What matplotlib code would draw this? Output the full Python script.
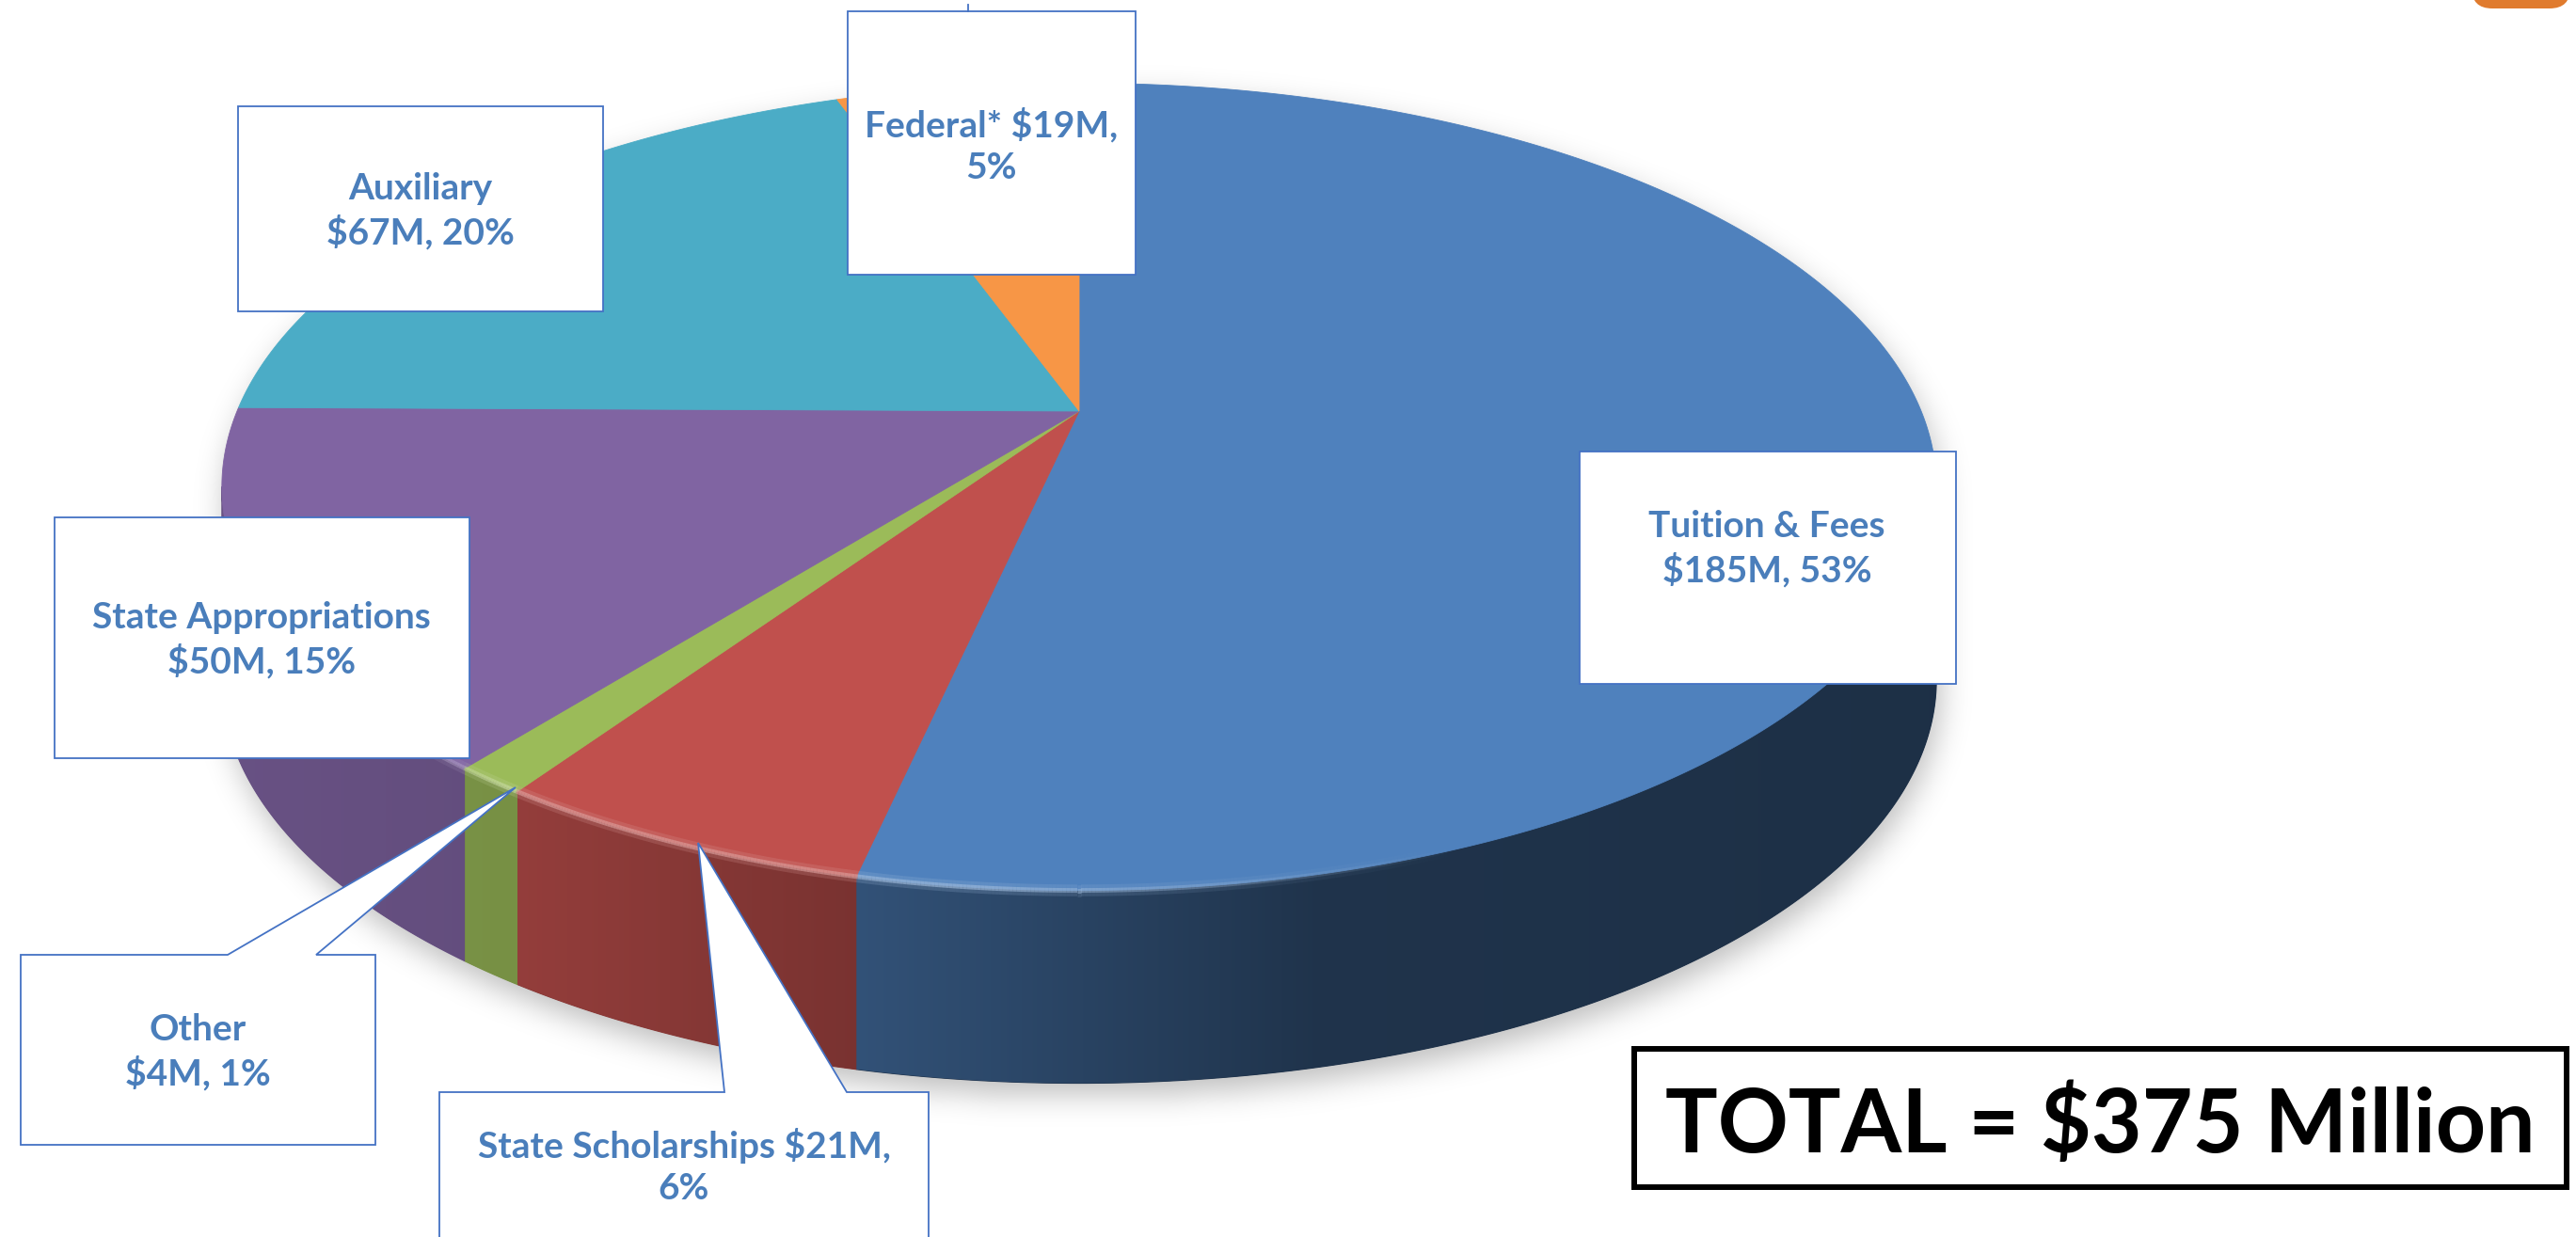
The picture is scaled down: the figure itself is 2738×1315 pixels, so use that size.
import numpy as np
import matplotlib
matplotlib.use("Agg")
import matplotlib.pyplot as plt
from matplotlib.patches import Polygon, Rectangle, FancyBboxPatch
from matplotlib.path import Path
from matplotlib.collections import LineCollection
from matplotlib.colors import to_rgb

# ---------------- data ----------------
categories = ["Tuition & Fees", "State Scholarships", "Other",
              "State Appropriations", "Auxiliary", "Federal*"]
values_musd = [185, 21, 4, 50, 67, 19]
value_labels = ["$185M", "$21M", "$4M", "$50M", "$67M", "$19M"]
pct_labels = ["53%", "6%", "1%", "15%", "20%", "5%"]
colors = ["#4f81bd", "#c0504d", "#9bbb59", "#8064a2", "#4bacc6", "#f79646"]
total_label = "TOTAL = $375 Million"

# ---------------- layout ----------------
W, H = 2738, 1315
fig = plt.figure(figsize=(W / 100, H / 100), dpi=100)
ax = fig.add_axes([0, 0, 1, 1])
ax.set_xlim(0, W)
ax.set_ylim(H, 0)
ax.axis("off")

cx, cy = 1147.0, 437.0
A, B, K = 895.0, 414.0, 0.1875
DEPTH = 205.0


def proj(theta_deg, drop=0.0):
    t = np.radians(np.asarray(theta_deg, float))
    u, v = np.cos(t), np.sin(t)
    den = 1 + K * v
    return np.column_stack([cx + A * u / den, cy - B * v / den + drop])


vals = np.array(values_musd, float)
frac = vals / vals.sum()
ends = 90 - np.cumsum(frac) * 360
starts = np.concatenate([[90], ends[:-1]])
n = len(vals)
th_s = np.degrees(np.arcsin(K))
vis_lo, vis_hi = -180 + th_s, -th_s


def shade(x):
    return np.interp(x, [200, 550, 917, 1400, 2100], [0.82, 0.77, 0.63, 0.40, 0.37])


# ---------------- shadow ----------------
sil = np.vstack([proj(np.linspace(vis_hi, vis_lo + 360, 400)),
                 proj(np.linspace(vis_lo + 360, vis_hi + 360, 400), DEPTH)])
step = 4
gx = np.arange(0, W, step) + step / 2
gy = np.arange(0, H, step) + step / 2
GX, GY = np.meshgrid(gx, gy)
dx, dy = 5, 14
mask = Path(sil).contains_points(np.column_stack([GX.ravel() - dx, GY.ravel() - dy]))
mask = mask.reshape(GX.shape).astype(float)
sig = 16 / step
kx = np.arange(-int(4 * sig), int(4 * sig) + 1)
kern = np.exp(-0.5 * (kx / sig) ** 2)
kern /= kern.sum()
bl = np.apply_along_axis(lambda r: np.convolve(r, kern, mode="same"), 1, mask)
bl = np.apply_along_axis(lambda c: np.convolve(c, kern, mode="same"), 0, bl)
sh = np.zeros(bl.shape + (4,))
sh[..., 3] = bl * 0.26
ax.imshow(sh, extent=(0, W, H, 0), aspect="auto", interpolation="bilinear", zorder=1)

# ---------------- side walls ----------------
for i in range(n):
    lo = max(ends[i], vis_lo)
    hi = min(starts[i], vis_hi)
    if hi <= lo:
        continue
    th = np.linspace(lo, hi, 200)
    top = proj(th)
    bot = proj(th[::-1], DEPTH)
    poly = np.vstack([top, bot])
    base = np.array(to_rgb(colors[i]))
    xm = poly[:, 0].mean()
    under = Polygon(poly, closed=True, facecolor=base * shade(xm),
                    edgecolor=base * shade(xm), lw=0.8, zorder=1.5)
    ax.add_patch(under)
    clip = Polygon(poly, closed=True, facecolor="none", edgecolor="none")
    ax.add_patch(clip)
    x0, x1 = poly[:, 0].min(), poly[:, 0].max()
    y0, y1 = poly[:, 1].min(), poly[:, 1].max()
    xs = np.linspace(x0, x1, 256)
    img = np.clip(base[None, :] * shade(xs)[:, None], 0, 1)[None, :, :]
    im = ax.imshow(img, extent=(x0, x1, y1, y0), aspect="auto",
                   interpolation="bilinear", zorder=2)
    im.set_clip_path(clip)

# ---------------- top faces ----------------
for i in range(n):
    npts = max(3, int(abs(starts[i] - ends[i]) * 4))
    th = np.linspace(starts[i], ends[i], npts)
    pts = np.vstack([[cx, cy], proj(th)])
    ax.add_patch(Polygon(pts, closed=True, facecolor=colors[i],
                         edgecolor=colors[i], lw=0.6, zorder=3))

# ---------------- rim highlight ----------------
th = np.linspace(vis_lo, vis_hi, 800)
pts = proj(th)
segs = np.stack([pts[:-1], pts[1:]], axis=1)
mid = (th[:-1] + th[1:]) / 2
midx = (pts[:-1, 0] + pts[1:, 0]) / 2
idx = np.array([np.where((m <= starts) & (m >= ends))[0][0] for m in mid])
rgb = np.array([to_rgb(colors[j]) for j in idx])
rgb = rgb + (1 - rgb) * 0.45
alpha = np.interp(midx, [380, 540, 1050, 1550], [0, 0.85, 0.85, 0])
for lw, af in [(9, 0.25), (3.5, 0.75)]:
    rgba = np.column_stack([rgb, alpha * af])
    ax.add_collection(LineCollection(segs, colors=rgba, linewidths=lw,
                                     capstyle="butt", zorder=3.5))

# ---------------- labels ----------------
text_color = "#4a7ebb"
box_edge = "#4472c4"
font = dict(family=["Lato", "DejaVu Sans"], weight="bold", size=28, color=text_color)

label_text = [
    f"{categories[0]}\n{value_labels[0]}, {pct_labels[0]}",
    f"{categories[1]} {value_labels[1]},\n{pct_labels[1]}",
    f"{categories[2]}\n{value_labels[2]}, {pct_labels[2]}",
    f"{categories[3]}\n{value_labels[3]}, {pct_labels[3]}",
    f"{categories[4]}\n{value_labels[4]}, {pct_labels[4]}",
    f"{categories[5]} {value_labels[5]},\n{pct_labels[5]}",
]

# plain boxes (x0, y0, x1, y1)
plain_boxes = {0: (1679, 480, 2079, 727), 3: (58, 550, 499, 806),
               4: (253, 113, 641, 331), 5: (901, 12, 1207, 292)}
for i, (x0, y0, x1, y1) in plain_boxes.items():
    ax.add_patch(Rectangle((x0, y0), x1 - x0, y1 - y0, facecolor="white",
                           edgecolor=box_edge, lw=1.3, zorder=5))
ax.plot([1029, 1029], [5, 12], color=box_edge, lw=1.3, zorder=5)

# callouts with pointers
callouts = {
    2: [(22, 1015), (242, 1015), (548, 837), (336, 1015), (399, 1015),
        (399, 1217), (22, 1217)],
    1: [(467, 1161), (770, 1161), (742, 896), (900, 1161), (987, 1161),
        (987, 1340), (467, 1340)],
}
for i, poly in callouts.items():
    ax.add_patch(Polygon(poly, closed=True, facecolor="white",
                         edgecolor=box_edge, lw=1.3, zorder=5))

text_pos = {0: (1878, 583), 1: (727, 1240), 2: (210, 1118),
            3: (278, 680), 4: (447, 224), 5: (1054, 155)}
for i, (tx, ty) in text_pos.items():
    ax.text(tx, ty, label_text[i], ha="center", va="center",
            linespacing=1.3, zorder=6, **font)

# ---------------- total box ----------------
ax.add_patch(Rectangle((1737, 1115), 2728 - 1737, 1262 - 1115, facecolor="white",
                       edgecolor="black", lw=4.3, zorder=5))
ax.text(2232, 1225, total_label, ha="center", va="baseline", zorder=6,
        family=["Lato", "DejaVu Sans"], weight="bold", size=67, color="black")

# ---------------- decorative corner ----------------
ax.add_patch(FancyBboxPatch((2627, -40), 105, 49,
                            boxstyle="round,pad=0,rounding_size=22",
                            facecolor="#e07b2e", edgecolor="none", zorder=5))

fig.savefig("out.png", dpi=100)
